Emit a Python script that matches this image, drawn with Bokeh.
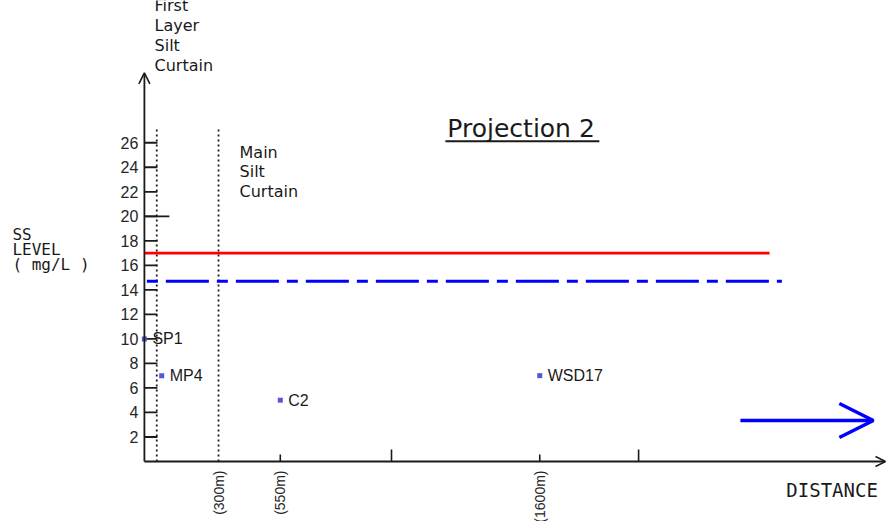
import math
from bokeh.plotting import figure
from bokeh.models import Range1d, Arrow, OpenHead
from bokeh.core.properties import value
from bokeh.embed import file_html
from bokeh.resources import INLINE

# ---------------- data ----------------
stations = ["SP1", "MP4", "C2", "WSD17"]
station_distance_m = [0, 70, 550, 1600]
station_ss_mg_l = [10, 7, 5, 7]

action_level = 17.0          # red solid line
action_extent_m = [0, 2530]
limit_level = 14.7           # blue dash-dot line
limit_extent_m = [10, 2580]

curtain_distance_m = [50, 300]   # first layer / main silt curtain
curtain_top = 27.2

y_ticks = [2, 4, 6, 8, 10, 12, 14, 16, 18, 20, 22, 24, 26]
y_tick_labels = [str(t) for t in y_ticks]
long_y_tick = [20]

x_label_ticks = [300, 550, 1600]
x_tick_labels = ["(300m)", "(550m)", "(1600m)"]
x_short_ticks = [550, 1600]
x_long_ticks = [1000, 2000]

y_axis_top = 31.7
# --------------------------------------

W, H = 888, 521
PX_PER_M = 0.2471
PX_PER_UNIT = 12.26
ORIGIN_X = 143.9   # canvas px of distance 0
ORIGIN_Y = 461.0   # canvas px of level 0

x_range = Range1d(-ORIGIN_X / PX_PER_M, (W - ORIGIN_X) / PX_PER_M)
y_range = Range1d(-(H - ORIGIN_Y) / PX_PER_UNIT, ORIGIN_Y / PX_PER_UNIT)

p = figure(width=W, height=H, x_range=x_range, y_range=y_range,
           x_axis_type=None, y_axis_type=None, toolbar_location=None,
           output_backend="svg", min_border=0, outline_line_color=None)
p.background_fill_color = "white"
p.border_fill_color = "white"

INK = "#1a1a1a"
SANS = value("Liberation Sans")
ROUND = value("DejaVu Sans")
MONO = value("DejaVu Sans Mono")

# axes with arrows
p.add_layout(Arrow(x_start=0, y_start=0, x_end=0, y_end=y_axis_top,
                   line_color=INK, line_width=1.8,
                   end=OpenHead(size=11, line_color=INK, line_width=1.6)))
x_end = (885 - ORIGIN_X) / PX_PER_M
p.add_layout(Arrow(x_start=0, y_start=0, x_end=x_end, y_end=0,
                   line_color=INK, line_width=1.8,
                   end=OpenHead(size=10, line_color=INK, line_width=1.4)))

# y ticks (inward) and labels
p.ray(x=[0] * len(y_ticks), y=y_ticks, length=13, length_units="screen",
      angle=0, line_color=INK, line_width=1.8)
p.ray(x=[0] * len(long_y_tick), y=long_y_tick, length=25, length_units="screen",
      angle=0, line_color=INK, line_width=1.8)
p.text(x=[0] * len(y_ticks), y=y_ticks, text=y_tick_labels, x_offset=-6,
       text_align="right", text_baseline="middle", text_font=SANS,
       text_font_size="16px", text_color="#262626")

# x ticks and rotated labels
p.ray(x=x_short_ticks, y=[0] * len(x_short_ticks), length=7, length_units="screen",
      angle=math.pi / 2, line_color=INK, line_width=1.6)
p.ray(x=x_long_ticks, y=[0] * len(x_long_ticks), length=12, length_units="screen",
      angle=math.pi / 2, line_color=INK, line_width=1.6)
p.text(x=x_label_ticks, y=[0] * len(x_label_ticks), text=x_tick_labels,
       angle=math.pi / 2, y_offset=9, text_align="right", text_baseline="middle",
       text_font=SANS, text_font_size="14px", text_color="#262626")

# silt curtains (dotted verticals)
p.segment(x0=curtain_distance_m, y0=[0] * len(curtain_distance_m),
          x1=curtain_distance_m, y1=[curtain_top] * len(curtain_distance_m),
          line_color=INK, line_width=1.8, line_dash="2 3")

# level lines
p.segment(x0=[action_extent_m[0]], y0=[action_level], x1=[action_extent_m[1]],
          y1=[action_level], line_color="#ff0000", line_width=2.6)
p.segment(x0=[limit_extent_m[0]], y0=[limit_level], x1=[limit_extent_m[1]],
          y1=[limit_level], line_color="#0000ff", line_width=3,
          line_dash="11 8 43 8")

# stations
p.scatter(x=station_distance_m, y=station_ss_mg_l, marker="square", size=5,
          fill_color="#5656d8", line_color=None)
p.text(x=station_distance_m, y=station_ss_mg_l, text=stations, x_offset=8,
       text_align="left", text_baseline="middle", text_font=SANS,
       text_font_size="16px", text_color=INK)

# annotation texts
p.text(x=[41], y=[31.5], text=["First\nLayer\nSilt\nCurtain"],
       text_align="left", text_baseline="bottom", text_font=ROUND,
       text_font_size="16px", text_line_height=1.05, text_color=INK)
p.text(x=[385], y=[26.0], text=["Main\nSilt\nCurtain"],
       text_align="left", text_baseline="top", text_font=ROUND,
       text_font_size="16px", text_line_height=1.03, text_color=INK)
p.text(x=[1226], y=[27.2], text=["Projection 2"], text_align="left",
       text_baseline="alphabetic", text_font=ROUND, text_font_size="25px",
       text_color=INK)
p.ray(x=[1218], y=[26.13], length=154, length_units="screen", angle=0,
      line_color=INK, line_width=2)
p.text(x=[-534], y=[19.3], text=["SS\nLEVEL\n( mg/L )"], text_align="left",
       text_baseline="top", text_font=MONO, text_font_size="16px",
       text_line_height=0.79, text_color=INK)
p.text(x=[2598], y=[-2.32], text=["DISTANCE"], text_align="left",
       text_baseline="middle", text_font=MONO, text_font_size="19px",
       text_color=INK)

# direction arrow
p.add_layout(Arrow(x_start=2412, y_start=3.34, x_end=2950, y_end=3.34,
                   line_color="#0000ff", line_width=3.5,
                   end=OpenHead(size=34, line_color="#0000ff", line_width=3.5)))

open("out.html", "w").write(file_html(p, INLINE))
